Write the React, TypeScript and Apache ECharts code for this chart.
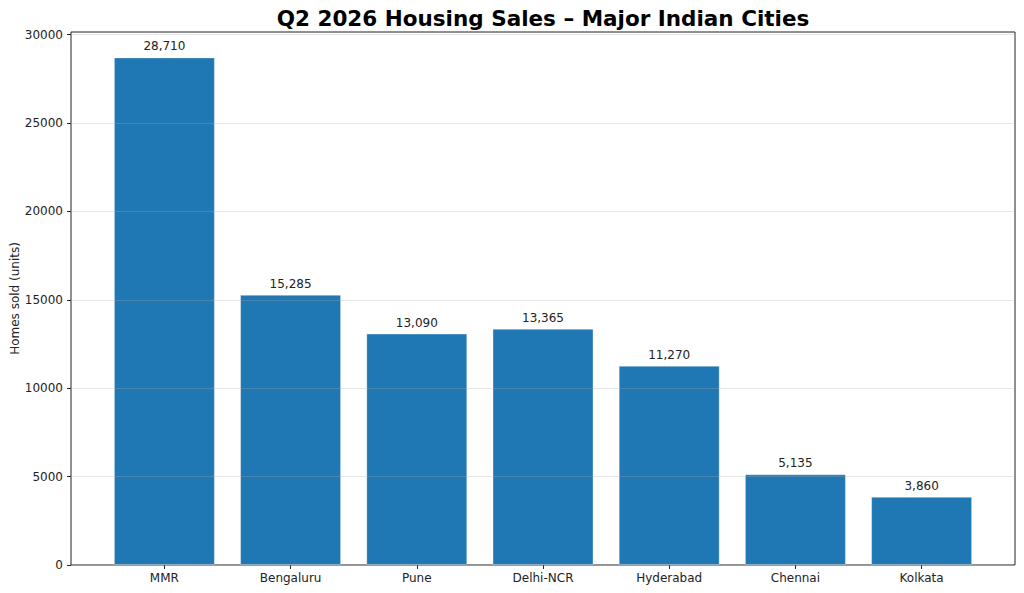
import React, { useEffect, useRef } from "react";
import * as echarts from "echarts";

const cities = ["MMR", "Bengaluru", "Pune", "Delhi-NCR", "Hyderabad", "Chennai", "Kolkata"];
const sales = [28710, 15285, 13090, 13365, 11270, 5135, 3860];
const yTicks = [0, 5000, 10000, 15000, 20000, 25000, 30000];
const titleText = "Q2 2026 Housing Sales \u2013 Major Indian Cities";
const yName = "Homes sold (units)";

const FONT = "DejaVu Sans";

export default function App() {
  const ref = useRef<HTMLDivElement>(null);
  useEffect(() => {
    document.body.style.margin = "0";
    if (!ref.current) return;
    const chart = echarts.init(ref.current, undefined, { renderer: "svg" });
    const idx = cities.map((_, i) => i);
    const yMax = Math.max(...sales) * 1.05;
    chart.setOption({
      animation: false,
      backgroundColor: "#ffffff",
      textStyle: { fontFamily: FONT },
      graphic: [
        {
          type: "text",
          x: 543,
          y: 18,
          style: {
            text: titleText,
            fontFamily: FONT,
            fontSize: 21.5,
            fontWeight: "bold",
            fill: "#000",
            textAlign: "center",
            textVerticalAlign: "middle",
          },
        },
      ],
      grid: {
        left: 71,
        right: 9,
        top: 32,
        bottom: 28,
        show: true,
        borderColor: "#222",
        borderWidth: 1,
        backgroundColor: "transparent",
        containLabel: false,
        outerBoundsMode: "none",
      },
      xAxis: {
        type: "value",
        min: -0.74,
        max: 6.74,
        axisLine: { show: false, onZero: false },
        splitLine: { show: false },
        axisTick: {
          show: true,
          inside: false,
          length: 4,
          lineStyle: { color: "#222" },
          customValues: idx,
        },
        axisLabel: {
          customValues: idx,
          formatter: (v: number) => cities[Math.round(v)] ?? "",
          color: "#222",
          fontFamily: FONT,
          fontSize: 12,
          margin: 7,
        },
      },
      yAxis: {
        type: "value",
        min: 0,
        max: yMax,
        z: 5,
        name: yName,
        nameLocation: "middle",
        nameRotate: 90,
        nameGap: 50,
        nameMoveOverlap: false,
        nameTextStyle: { color: "#222", fontFamily: FONT, fontSize: 12 },
        axisLine: { show: false, onZero: false },
        axisTick: {
          show: true,
          inside: false,
          length: 4,
          lineStyle: { color: "#222" },
          customValues: yTicks,
        },
        axisLabel: {
          customValues: yTicks,
          formatter: (v: number) => String(v),
          color: "#222",
          fontFamily: FONT,
          fontSize: 12,
          margin: 8,
        },
        interval: 5000,
        splitLine: {
          show: true,
          lineStyle: { color: "rgba(176,176,176,0.3)", width: 1 },
        },
      },
      series: [
        {
          type: "bar",
          data: cities.map((_, i) => [i, sales[i]]),
          barWidth: 101,
          itemStyle: {
            color: "#1f77b4",
            borderColor: "rgba(255,255,255,0.35)",
            borderWidth: 1,
          },
          label: {
            show: true,
            position: "top",
            distance: 5,
            formatter: (p: any) => Number(p.value[1]).toLocaleString("en-US"),
            color: "#222",
            fontFamily: FONT,
            fontSize: 12,
          },
        },
      ],
    });
    return () => chart.dispose();
  }, []);
  return <div ref={ref} style={{ width: 1024, height: 593 }} />;
}
